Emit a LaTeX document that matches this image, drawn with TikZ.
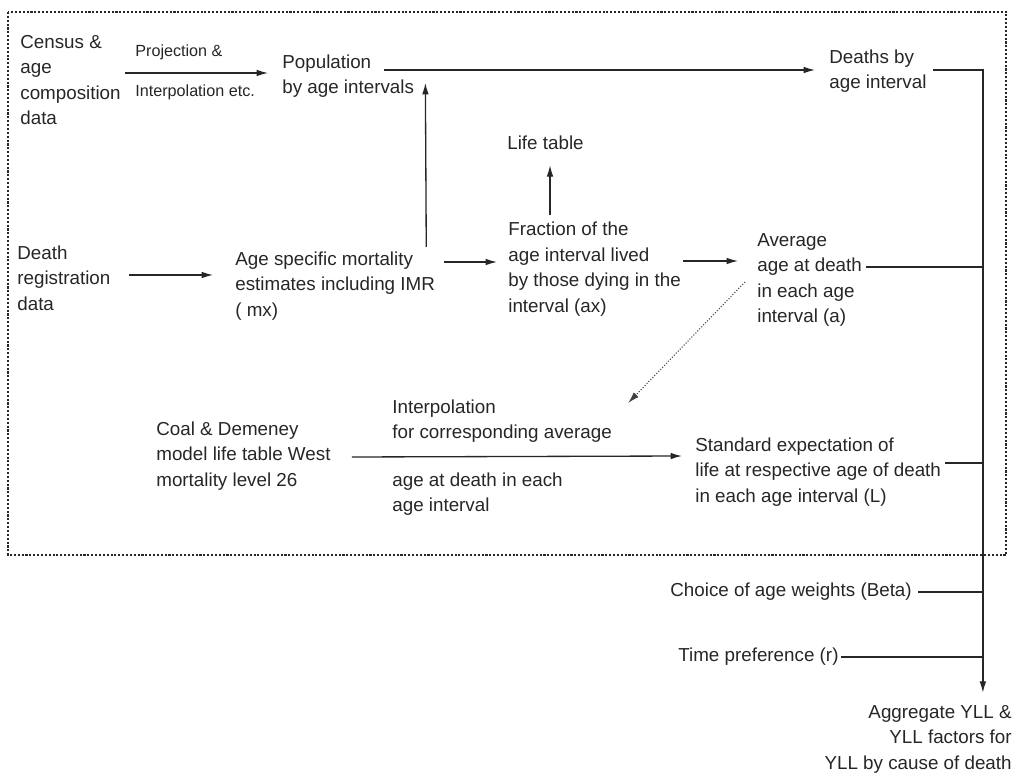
\documentclass[tikz,border=0pt]{standalone}
\usepackage{fontspec}
\setmainfont{Liberation Sans}
\usepackage{tikz}
\usetikzlibrary{positioning,arrows.meta,calc}
\tikzset{
  txt/.style={align=left, anchor=west, inner sep=0pt, text=black!85, font=\fontsize{10.7}{14.5}\selectfont},
  rtxt/.style={txt, align=right, anchor=east},
  note/.style={txt, font=\fontsize{9.2}{11}\selectfont},
  flow/.style={-{Latex[length=6.5pt,width=3.8pt]}, line width=0.75pt, draw=black!85},
  link/.style={line width=0.75pt, draw=black!85},
  dflow/.style={-{Latex[length=6.5pt,width=3.8pt]}, line width=0.6pt, densely dotted, draw=black!75},
  frame/.style={line width=1.2pt, densely dotted, draw=black!85},
}

\begin{document}
\begin{tikzpicture}[x=0.02cm, y=-0.02cm]
  \useasboundingbox (0,0) rectangle (1014,773);
  \draw[frame] (8,12) rectangle (1006,555);

  % --- upper row
  \node[txt] (census) at (20,80) {Census \&\\age\\composition\\data};
  \node[note] (proj) at (135,52) {Projection \&};
  \node[note] (interp) at (135,92) {Interpolation etc.};
  \node[txt] (pop) at (282,76) {Population\\by age intervals};
  \node[txt] (deaths) at (829,71) {Deaths by\\age interval};

  % --- middle row
  \node[txt] (deathreg) at (17,278) {Death\\registration\\data};
  \node[txt] (asm) at (235,286) {Age specific mortality\\estimates including IMR\\( mx)};
  \node[txt] (life) at (507,143) {Life table};
  \node[txt] (frac) at (508,269) {Fraction of the\\age interval lived\\by those dying in the\\interval (ax)};
  \node[txt] (avg) at (757,280) {Average\\age at death\\in each age\\interval (a)};

  % --- lower row
  \node[txt] (coal) at (156,456) {Coal \& Demeney\\model life table West\\mortality level 26};
  \node[txt] (interpA) at (392,421) {Interpolation\\for corresponding average};
  \node[txt] (interpB) at (392,494) {age at death in each\\age interval};
  \node[txt] (std) at (695,472) {Standard expectation of\\life at respective age of death\\in each age interval (L)};

  % --- outside the frame
  \node[txt] (beta) at (670,592) {Choice of age weights (Beta)};
  \node[txt] (timep) at (678,657) {Time preference (r)};
  \node[rtxt] (agg) at (1012,739) {Aggregate YLL \&\\YLL factors for\\YLL by cause of death};

  % --- arrows
  \draw[flow] ($(census.east)+(4,-7)$) -- ($(pop.west)+(-14,-3)$);
  \draw[flow] ($(pop.east)+(-30,-6)$) -- ($(deaths.west)+(-14,-1)$);
  \draw[flow] ($(deathreg.east)+(18,-3)$) -- ($(asm.west)+(-22,-11)$);
  \draw[flow] ($(asm.east)+(-9,-39)$) -- ($(pop.east)+(11,7)$);
  \draw[flow] ($(asm.east)+(9,-24)$) -- ($(frac.west)+(-11,-7)$);
  \draw[flow] ($(frac.north west)+(42,-7)$) -- ($(life.south west)+(43,15)$);
  \draw[flow] ($(frac.east)+(2,-8)$) -- ($(avg.west)+(-19,-19)$);
  \draw[dflow] ($(avg.west)+(-12,2)$) -- ($(interpA.east)+(16,-18)$);
  \draw[flow] ($(coal.east)+(21,1)$) -- ($(std.west)+(-13,-16)$);

  % --- trunk to YLL
  \coordinate (trunk) at ($(deaths.east)+(56,-1)$);
  \draw[flow] ($(deaths.east)+(6,-1)$) -- (trunk) -- ($(trunk |- agg.north)+(0,-12)$);
  \draw[link] ($(avg.east)+(4,-13)$) coordinate (b1) -- (b1 -| trunk);
  \draw[link] ($(std.east)+(4,-9)$) coordinate (b2) -- (b2 -| trunk);
  \draw[link] ($(beta.east)+(6,0)$) coordinate (b3) -- (b3 -| trunk);
  \draw[link] ($(timep.east)+(2,0)$) coordinate (b4) -- (b4 -| trunk);
\end{tikzpicture}
\end{document}
